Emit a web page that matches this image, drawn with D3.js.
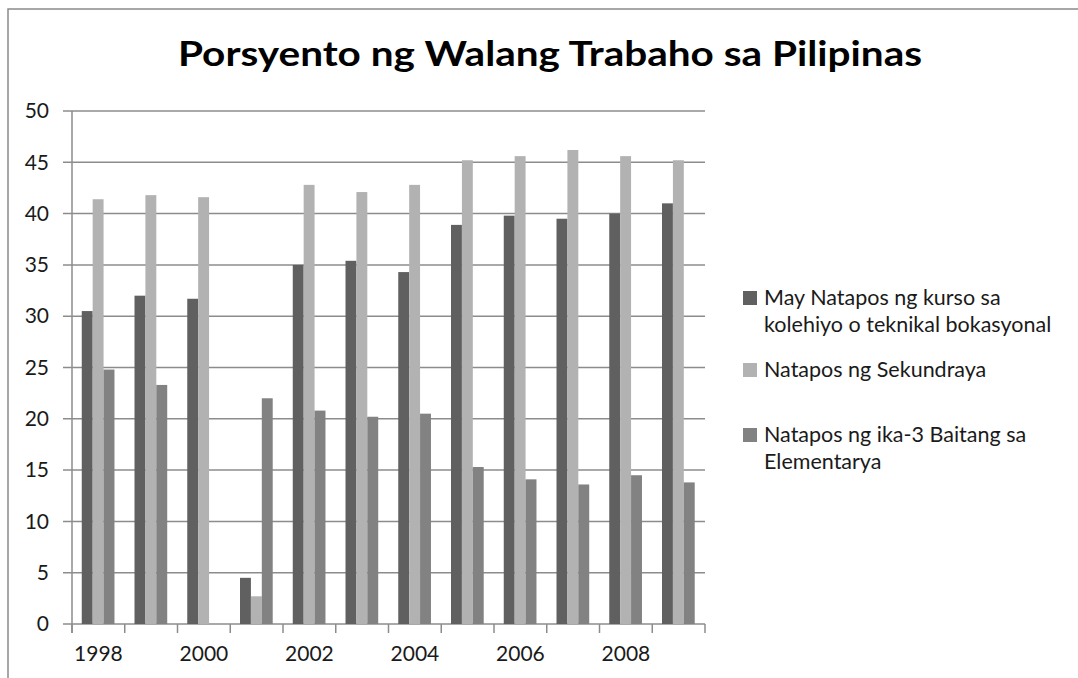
<!DOCTYPE html>
<html>
<head>
<meta charset="utf-8">
<script src="https://cdn.jsdelivr.net/npm/d3@7"></script>
<style>
  body { margin: 0; background: #fff; }
  svg { display: block; font-family: Lato, 'Open Sans', sans-serif; }
</style>
</head>
<body>
<div></div>
<script>
const years = [1998, 1999, 2000, 2001, 2002, 2003, 2004, 2005, 2006, 2007, 2008, 2009];
const seriesNames = [
  'May Natapos ng kurso sa kolehiyo o teknikal bokasyonal',
  'Natapos ng Sekundraya',
  'Natapos ng ika-3 Baitang sa Elementarya'
];
const kolehiyo = [30.5, 32.0, 31.7, 4.5, 35.0, 35.4, 34.3, 38.9, 39.8, 39.5, 40.0, 41.0];
const sekundarya = [41.4, 41.8, 41.6, 2.7, 42.8, 42.1, 42.8, 45.2, 45.6, 46.2, 45.6, 45.2];
const elementarya = [24.8, 23.3, null, 22.0, 20.8, 20.2, 20.5, 15.3, 14.1, 13.6, 14.5, 13.8];
const yTicks = [0, 5, 10, 15, 20, 25, 30, 35, 40, 45, 50];
const xLabels = [1998, 2000, 2002, 2004, 2006, 2008];

const w = 1078;
const h = 678;
const colors = ['#606060', '#b2b2b2', '#828282'];
const seriesData = [kolehiyo, sekundarya, elementarya];

const svg = d3
  .select('body')
  .select('div')
  .append('svg')
  .attr('width', w)
  .attr('height', h);

// frame of the chart (cropped on right and bottom)
svg
  .append('rect')
  .attr('x', 8)
  .attr('y', 9)
  .attr('width', 1100)
  .attr('height', 700)
  .style('fill', 'none')
  .style('stroke', '#8a8a8a')
  .style('stroke-width', 1.5);

svg
  .append('text')
  .attr('x', 550)
  .attr('y', 66)
  .attr('text-anchor', 'middle')
  .attr('textLength', 744)
  .attr('lengthAdjust', 'spacingAndGlyphs')
  .style('font-size', '35px')
  .style('font-weight', 'bold')
  .style('fill', '#000')
  .text('Porsyento ng Walang Trabaho sa Pilipinas');

const plotLeft = 72;
const plotRight = 705;
const plotTop = 111;
const plotBottom = 624;

const x = d3.scaleBand().domain(years).range([plotLeft, plotRight]).padding(0);
const bw = x.bandwidth();
const xs = d3
  .scaleBand()
  .domain(d3.range(seriesData.length))
  .range([bw * 0.185, bw * 0.805]);
const y = d3.scaleLinear().domain([0, 50]).range([plotBottom, plotTop]);

// gridlines
svg
  .append('g')
  .selectAll('line')
  .data(yTicks)
  .enter()
  .append('line')
  .attr('x1', plotLeft - 9)
  .attr('x2', plotRight)
  .attr('y1', (d) => y(d))
  .attr('y2', (d) => y(d))
  .style('stroke', '#8c8c8c')
  .style('stroke-width', 1.5);

// y axis
const yAxis = d3.axisLeft(y).tickValues(yTicks).tickSize(0).tickPadding(23);
const gy = svg
  .append('g')
  .attr('transform', `translate(${plotLeft}, 0)`)
  .call(yAxis);
gy.select('.domain').remove();
gy.selectAll('text')
  .style('font-size', '21px')
  .style('font-family', 'Lato, sans-serif')
  .style('fill', '#1a1a1a');

svg
  .append('line')
  .attr('x1', plotLeft)
  .attr('x2', plotLeft)
  .attr('y1', plotTop)
  .attr('y2', plotBottom + 9)
  .style('stroke', '#8c8c8c')
  .style('stroke-width', 1.5);

// category boundary ticks
const bounds = years.map((d) => x(d)).concat([x(years[years.length - 1]) + bw]);
svg
  .append('g')
  .selectAll('line')
  .data(bounds)
  .enter()
  .append('line')
  .attr('x1', (d) => d)
  .attr('x2', (d) => d)
  .attr('y1', plotBottom)
  .attr('y2', plotBottom + 9)
  .style('stroke', '#8c8c8c')
  .style('stroke-width', 1.5);

// bars
seriesData.forEach((vals, si) => {
  svg
    .append('g')
    .selectAll('rect')
    .data(years.map((yr, i) => ({ yr: yr, v: vals[i] })).filter((d) => d.v !== null))
    .enter()
    .append('rect')
    .attr('x', (d) => x(d.yr) + xs(si))
    .attr('width', xs.bandwidth())
    .attr('y', (d) => y(d.v))
    .attr('height', (d) => y(0) - y(d.v))
    .style('fill', colors[si]);
});

// x labels
const xAxis = d3.axisBottom(x).tickValues(xLabels).tickSize(0).tickPadding(22);
const gx = svg
  .append('g')
  .attr('transform', `translate(0, ${plotBottom})`)
  .call(xAxis);
gx.select('.domain').remove();
gx.selectAll('text')
  .style('font-size', '21px')
  .style('font-family', 'Lato, sans-serif')
  .style('fill', '#1a1a1a');

// legend
const legendLines = [
  ['May Natapos ng kurso sa', 'kolehiyo o teknikal bokasyonal'],
  ['Natapos ng Sekundraya'],
  ['Natapos ng ika-3 Baitang sa', 'Elementarya']
];
const legendY = [305, 377, 442];

const legend = svg.append('g').attr('id', 'legend');
legendLines.forEach((lines, i) => {
  legend
    .append('rect')
    .attr('x', 743)
    .attr('y', legendY[i] - 14)
    .attr('width', 14)
    .attr('height', 14)
    .style('fill', colors[i]);
  const t = legend
    .append('text')
    .attr('x', 764)
    .attr('y', legendY[i])
    .style('font-size', '21.5px')
    .style('fill', '#1a1a1a');
  lines.forEach((ln, j) => {
    t.append('tspan')
      .attr('x', 764)
      .attr('dy', j === 0 ? 0 : 27)
      .text(ln);
  });
});
</script>
</body>
</html>
